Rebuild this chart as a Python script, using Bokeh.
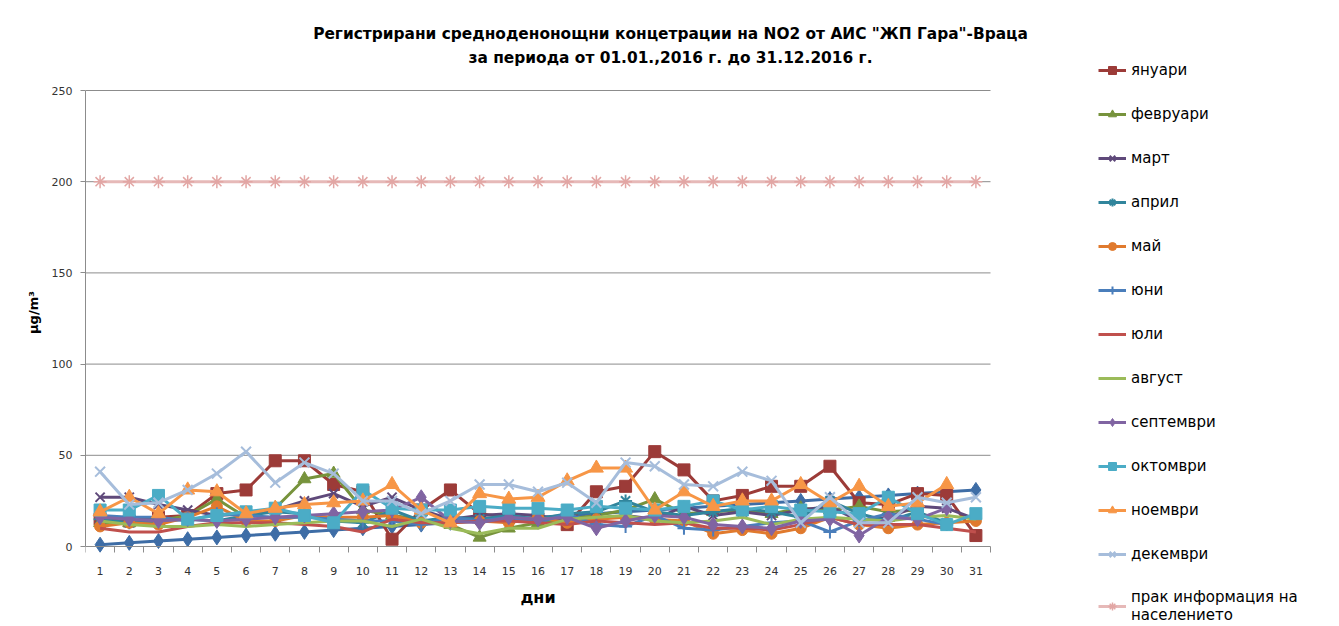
from bokeh.plotting import figure
from bokeh.models import Range1d, FixedTicker, Legend, LegendItem, ColumnDataSource, Label
from bokeh.embed import file_html
from bokeh.resources import INLINE

nan = float("nan")

days = [1, 2, 3, 4, 5, 6, 7, 8, 9, 10, 11, 12, 13, 14, 15, 16, 17, 18, 19, 20,
        21, 22, 23, 24, 25, 26, 27, 28, 29, 30, 31]
day_labels = [str(d) for d in days]
y_ticks = [0, 50, 100, 150, 200, 250]

series_days = [1, 2, 3, 4, 5, 6, 7, 8, 9, 10, 11, 12, 13, 14, 15, 16, 17, 18, 19, 20,
               21, 22, 23, 24, 25, 26, 27, 28, 29, 30, 31]
jan = [15, 14, 16, 17, 29, 31, 47, 47, 34, 30, 4, 20, 31, 18, 16, 15, 12, 30, 33, 52,
       42, 25, 28, 33, 33, 44, 24, 23, 29, 28, 6]
feb = [13, 13, 14, 17, 26, 16, 21, 37, 40, 20, 17, 15, 12, 5, 10, 13, 15, 17, 20, 26,
       18, 19, 20, 18, 21, 20, 22, 19, 20, nan, nan]
mar = [27, 27, 23, 20, 17, 18, 20, 25, 29, 22, 27, 20, 15, 17, 18, 17, 14, 15, 17, 15,
       22, 17, 19, 17, 20, 22, 14, 16, 22, 21, 15]
apr = [15, 13, 14, 15, 14, 17, 19, 18, 14, 13, 20, 14, 16, 15, 17, 15, 18, 19, 25, 19,
       17, 19, 21, 19, 16, 25, 18, 14, 19, 13, nan]
may = [11, 13, 12, 16, 22, 14, 14, 17, 16, 16, 17, 13, 13, 14, 13, 16, 13, 15, 16, 15,
       14, 7, 9, 7, 10, 16, 12, 10, 12, 13, 14]
jun = [17, 16, 16, 14, 18, 17, 16, 16, 15, 14, 14, 12, 16, 14, 16, 13, 18, 12, 11, 17,
       10, 9, 11, 13, 14, 8, 14, 18, 15, 12, nan]
jul = [10, 8, 8, 11, 13, 13, 13, 12, 11, 8, 15, 13, 13, 14, 14, 13, 12, 14, 13, 12,
       13, 10, 10, 9, 12, 16, 12, 12, 12, 10, 8]
aug = [14, 12, 11, 11, 12, 11, 12, 13, 14, 14, 11, 15, 10, 7, 10, 10, 15, 16, 17, 14,
       13, 14, 16, 12, 15, 16, 15, 14, 16, 17, 15]
sep = [16, 15, 14, 15, 14, 15, 16, 17, 18, 19, 20, 27, 14, 13, 16, 15, 16, 10, 14, 17,
       16, 12, 11, 10, 14, 15, 6, 16, 15, 21, nan]
octo = [20, 20, 28, 15, 17, 19, 21, 17, 13, 31, 21, 20, 20, 22, 21, 21, 20, 22, 21, 20,
        22, 25, 20, 22, 20, 19, 18, 27, 18, 12, 18]
nov = [19, 27, 18, 31, 30, 18, 21, 23, 24, 25, 34, 20, 13, 29, 26, 27, 36, 43, 43, 20,
       30, 22, 25, 25, 34, 24, 33, 22, 24, 34, nan]
dec = [41, 23, 24, 31, 40, 52, 35, 46, 40, 25, 25, 18, 25, 34, 34, 30, 35, 24, 46, 44,
       34, 33, 41, 36, 13, 27, 13, 13, 27, 24, 27]
threshold = [200] * 31

month_names = ["януари", "февруари", "март", "април", "май", "юни", "юли", "август",
               "септември", "октомври", "ноември", "декември"]
threshold_name = "прак информация на\nнаселението"

title_1 = 'Регистрирани средноденонощни концетрации на NO2 от АИС "ЖП Гара"-Враца'
title_2 = "за периода от 01.01.,2016 г. до 31.12.2016 г."

# ---- geometry (pixels of the page) ----
W, H = 1336, 624
LEFT, RIGHT_DATA, TOP_DATA, BOTTOM_DATA = 85, 990, 90, 546
px_x = (RIGHT_DATA - LEFT) / 31.0
px_y = (BOTTOM_DATA - TOP_DATA) / 250.0
x_end = 0.5 + (W - LEFT) / px_x
y_start = -(H - BOTTOM_DATA) / px_y
y_end = BOTTOM_DATA / px_y


def dx(page_x):
    return 0.5 + (page_x - LEFT) / px_x


def dy(page_y):
    return (BOTTOM_DATA - page_y) / px_y


p = figure(width=W, height=H, output_backend="svg", toolbar_location=None, title=None,
           x_range=Range1d(0.5, x_end), y_range=Range1d(y_start, y_end),
           min_border_left=LEFT, min_border_right=0, min_border_top=0,
           min_border_bottom=0)
p.outline_line_color = None
p.background_fill_color = "white"
p.border_fill_color = "white"

# x axis drawn at y = 0 inside the frame
p.xaxis.fixed_location = 0
p.xaxis.bounds = (0.5, 31.5)
p.xaxis.ticker = FixedTicker(ticks=days, minor_ticks=[d - 0.5 for d in days] + [31.5])
p.xaxis.major_label_overrides = {d: l for d, l in zip(days, day_labels)}
p.xaxis.major_tick_out = 0
p.xaxis.major_tick_in = 0
p.xaxis.minor_tick_out = 6
p.xaxis.minor_tick_in = 0
p.xaxis.minor_tick_line_color = "#8c8c8c"
p.xaxis.major_label_standoff = 14
p.xaxis.axis_label = "дни"
p.xaxis.axis_label_text_font = "DejaVu Sans"
p.xaxis.axis_label_text_font_style = "bold"
p.xaxis.axis_label_text_font_size = "16px"
p.xaxis.axis_label_standoff = 10

p.yaxis.bounds = (0, 250)
p.yaxis.ticker = FixedTicker(ticks=y_ticks)
p.yaxis.minor_tick_line_color = None
p.yaxis.major_tick_out = 5
p.yaxis.major_tick_in = 0
p.yaxis.major_label_standoff = 8
p.yaxis.axis_label = "µg/m³"
p.yaxis.axis_label_text_font = "DejaVu Sans"
p.yaxis.axis_label_text_font_style = "bold"
p.yaxis.axis_label_text_font_size = "13px"
p.yaxis.axis_label_standoff = 8

for ax in (p.xaxis, p.yaxis):
    ax.axis_line_color = "#8c8c8c"
    ax.major_tick_line_color = "#8c8c8c"
    ax.major_label_text_font = "DejaVu Sans"
    ax.major_label_text_font_size = "11px"
    ax.major_label_text_color = "#333333"
    ax.axis_label_text_color = "black"

p.xgrid.grid_line_color = None
p.ygrid.grid_line_color = None
# horizontal gridlines limited to the data area
p.segment(x0=[0.5] * 5, x1=[31.5] * 5, y0=y_ticks[1:], y1=y_ticks[1:],
          line_color="#8c8c8c", line_width=1)

src = ColumnDataSource(dict(x=days, d=series_days, jan=jan, feb=feb, mar=mar, apr=apr,
                            may=may, jun=jun, jul=jul, aug=aug, sep=sep, octo=octo,
                            nov=nov, dec=dec, thr=threshold))

# (column, line colour, marker, marker size, marker fill)
styles = [
    ("jan", "#9c3b38", "square", 12, "#9c3b38"),
    ("feb", "#77933c", "triangle", 13, "#77933c"),
    ("mar", "#5f497a", "x", 13, None),
    ("apr", "#31859c", "asterisk", 13, None),
    ("may", "#e07a2e", "circle", 11, "#e07a2e"),
    ("jun", "#4a7ebb", "cross", 13, None),
    ("jul", "#c0504d", None, 0, None),
    ("aug", "#9bbb59", None, 0, None),
    ("sep", "#8064a2", "diamond", 15, "#8064a2"),
    ("octo", "#4bacc6", "square", 12, "#4bacc6"),
    ("nov", "#f79646", "triangle", 14, "#f79646"),
    ("dec", "#a6bddb", "x", 14, None),
]

# series of days (no legend entry)
p.line("x", "d", source=src, line_color="#3e6da6", line_width=3)
p.scatter("x", "d", source=src, marker="diamond", size=15, fill_color="#3e6da6",
          line_color="#3e6da6")

items = []
for (col, color, marker, size, fill), name in zip(styles, month_names):
    rs = [p.line("x", col, source=src, line_color=color, line_width=3)]
    if marker is not None:
        if fill is None:
            rs.append(p.scatter("x", col, source=src, marker=marker, size=size,
                                line_color=color, line_width=2, fill_color=None))
        else:
            rs.append(p.scatter("x", col, source=src, marker=marker, size=size,
                                line_color=color, fill_color=fill))
    items.append(LegendItem(label=name, renderers=rs))

thr_l = p.line("x", "thr", source=src, line_color="#e6b9b8", line_width=3)
thr_s = p.scatter("x", "thr", source=src, marker="asterisk", size=13, line_color="#e2a6a4",
                  line_width=1.5, fill_color=None)
items.append(LegendItem(label=threshold_name, renderers=[thr_l, thr_s]))

legend = Legend(items=items, location=(1098 - LEFT, 0), orientation="vertical",
                spacing=24, padding=0, margin=0, glyph_width=28, glyph_height=20,
                label_height=20, label_standoff=5,
                label_text_font="DejaVu Sans", label_text_font_size="15px",
                label_text_color="black", border_line_color=None,
                background_fill_alpha=0)
p.add_layout(legend)

for txt, py in ((title_1, 33), (title_2, 57)):
    p.add_layout(Label(x=dx(670), y=dy(py), text=txt, text_font="DejaVu Sans",
                       text_font_style="bold", text_font_size="15.4px",
                       text_baseline="middle", text_align="center", text_color="black"))

open("out.html", "w").write(file_html(p, INLINE))
